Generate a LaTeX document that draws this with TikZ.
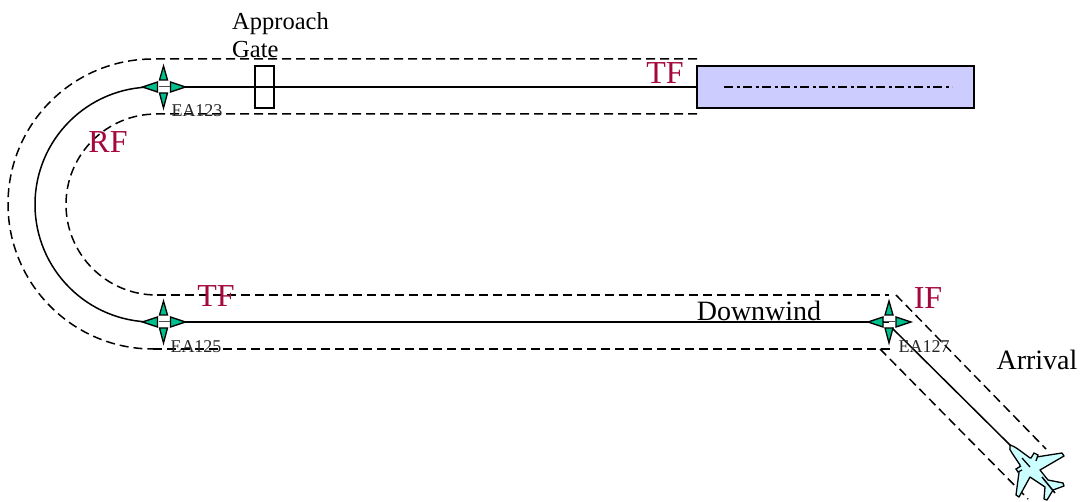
\documentclass[tikz,border=0pt]{standalone}
\usepackage{fontspec}
\setmainfont{Liberation Serif}
\definecolor{legred}{HTML}{A5093C}
\definecolor{wayteal}{HTML}{00BF8F}
\definecolor{rwyblue}{HTML}{CCCCFF}
\definecolor{planecyan}{HTML}{CCFFFF}
\tikzset{
  route/.style={line width=1.5pt},
  corridor/.style={line width=1.5pt, dash pattern=on 9pt off 5pt},
  legname/.style={text=legred, font=\fontsize{32}{32}\selectfont, inner sep=0pt},
  wayname/.style={text=black!85, font=\fontsize{18}{18}\selectfont, inner sep=0pt},
  label/.style={font=\fontsize{28}{28}\selectfont, inner sep=0pt},
  waypoint/.pic={
    \draw [line width=1.3pt, fill=wayteal] (0,-21) -- (4,-7) -- (-4,-7) -- cycle;
    \draw [line width=1.3pt, fill=wayteal] (0,21)  -- (4,6)  -- (-4,6)  -- cycle;
    \draw [line width=1.3pt, fill=wayteal] (-21,0) -- (-6,-5) -- (-6,5) -- cycle;
    \draw [line width=1.3pt, fill=wayteal] (22,0)  -- (7,-5) -- (7,5)   -- cycle;
    \draw [line width=1pt, black!70] (-5,0) -- (6,0);
  }
}
\begin{document}
\begin{tikzpicture}[x=1pt, y=-1pt]
        \useasboundingbox (0,0) rectangle (1085,502);
        \coordinate (ea123) at (163.5,87);
        \coordinate (ea125) at (163.5,322);
        \coordinate (ea127) at (889,322);
        \coordinate (thr)   at (697,87);
        \coordinate (tail)  at (1011,446);

        \draw [line width=1.5pt, fill=rwyblue] (697,66) rectangle (974,108); %runway
        \draw [line width=1.5pt, dash pattern=on 9pt off 3.5pt on 3pt off 3.5pt]
              (724,87) -- (952,87);                                  %centre line
        \draw [line width=1.3pt]    (255,66) rectangle (274,108);    %gate

        \draw [route]    (ea123) ++(21,0) -- (thr);                  %final
        \draw [route]    (152.5,87) arc [start angle=270, end angle=90, radius=117.5]; %turn
        \draw [route]    (ea125) ++(21,0) -- (ea127);                %downwind
        \draw [route]    (ea127) ++(3,6) -- (tail);                  %arrival

        \draw [corridor] (697,59)  -- (153,59)  arc [start angle=270, end angle=90, radius=145];
        \draw [corridor] (697,114) -- (156.5,114) arc [start angle=270, end angle=90, radius=90.5];
        \draw [corridor] (156.5,295) -- (889,295);                   %
        \draw [corridor] (153,349) -- (891,349);                     %
        \draw [corridor] (896,295) -- (1046,449);                    %
        \draw [corridor] (880,349) -- (1028,499);                    %

        \pic at (ea123) {waypoint};
        \pic at (ea125) {waypoint};
        \pic at (ea127) {waypoint};

        %aircraft
        \draw [line width=1.3pt, line join=round, fill=planecyan]
              (1010,445) .. controls (1014,446) and (1018,449) .. (1030,458)
              -- (1062,453) -- (1064,456) -- (1040,470) -- (1048,480)
              -- (1063,483) -- (1064,486) -- (1053,490) -- (1047,500)
              -- (1044,499) -- (1045,487) -- (1030,477) -- (1019,497)
              -- (1016,495) -- (1020,465) -- (1012,453)
              .. controls (1010,451) and (1009,448) .. (1010,445) -- cycle;
        \draw [line width=1.3pt, fill=planecyan] (1031,458) -- (1034,453) -- (1038,455) -- (1036,461);
        \draw [line width=1.3pt, fill=planecyan] (1021,466) -- (1016,469) -- (1018,472) -- (1022,470);
        \draw [line width=1.3pt] (1022,458) -- (1030,467);
        \draw [line width=1.5pt] (1042,477) -- (1055,493);

        \node [legname] (tflabel)  at (665,73)   {TF};
        \node [legname] (rflabel)  at (108,142)  {RF};
        \node [legname] (tfdown)   at (216,296)  {TF};
        \node [legname] (iflabel)  at (928,298)  {IF};
        \node [label]   (downwind) at (759,311)  {Downwind};
        \node [label]   (arrival)  at (1037,360) {Arrival};
        \node [wayname] (wpa)      at (197,111)  {EA123};
        \node [wayname] (wpb)      at (196,347)  {EA125};
        \node [wayname] (wpc)      at (924,347)  {EA127};
        \node [font=\fontsize{24.5}{24.5}\selectfont, inner sep=0pt, anchor=base west] (approach) at (232,30) {Approach};
        \node [font=\fontsize{24.5}{24.5}\selectfont, inner sep=0pt, anchor=base west] (gate)     at (232,58) {Gate};
\end{tikzpicture}
\end{document}
